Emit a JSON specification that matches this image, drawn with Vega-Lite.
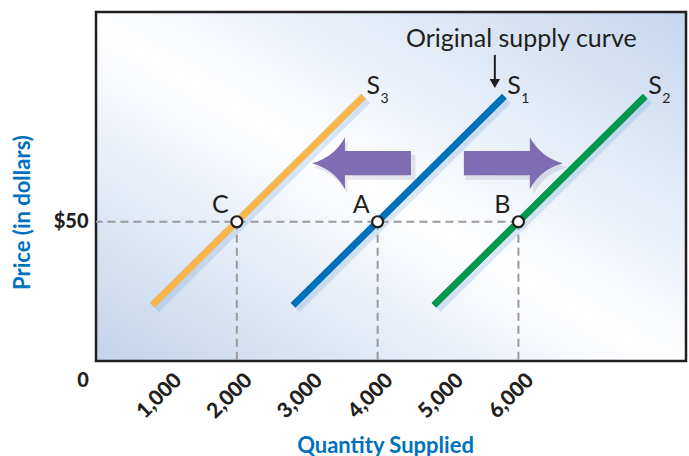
{
  "$schema": "https://vega.github.io/schema/vega-lite/v6.json",
  "autosize": {"type": "none"},
  "padding": {"left": 96, "top": 12, "right": 3, "bottom": 95},
  "width": 590,
  "height": 349,
  "background": "#ffffff",
  "config": {
    "font": "Lato",
    "view": {
      "stroke": "#231f20",
      "strokeWidth": 2.5,
      "fill": {
        "gradient": "linear",
        "x1": 0, "y1": 1, "x2": 1, "y2": 0,
        "stops": [
          {"offset": 0, "color": "#c2d3eb"},
          {"offset": 0.48, "color": "#ffffff"},
          {"offset": 0.6, "color": "#f1f5fb"},
          {"offset": 1, "color": "#c5d6ee"}
        ]
      }
    }
  },
  "datasets": {
    "lines": [
      {"curve": "S3", "qty": 800, "price": 20},
      {"curve": "S3", "qty": 3800, "price": 95},
      {"curve": "S1", "qty": 2800, "price": 20},
      {"curve": "S1", "qty": 5800, "price": 95},
      {"curve": "S2", "qty": 4800, "price": 20},
      {"curve": "S2", "qty": 7800, "price": 95}
    ],
    "labels": [
      {"name": "S", "sub": "3", "qty": 3800, "price": 95},
      {"name": "S", "sub": "1", "qty": 5800, "price": 95},
      {"name": "S", "sub": "2", "qty": 7800, "price": 95}
    ],
    "points": [
      {"label": "C", "qty": 2000, "price": 50},
      {"label": "A", "qty": 4000, "price": 50},
      {"label": "B", "qty": 6000, "price": 50}
    ],
    "shifts": [
      {"dir": "left", "qty": 3770, "price": 71},
      {"dir": "right", "qty": 5928, "price": 71}
    ],
    "note": [
      {"text": "Original supply curve", "qty": 6041, "price": 112.7, "arrowQty": 5665, "arrowTop": 109.9, "arrowBottom": 100.5, "headPrice": 99.6}
    ],
    "origin": [
      {"label": "0", "qty": 0, "price": 0}
    ]
  },
  "layer": [
    {
      "data": {"name": "lines"},
      "mark": {"type": "line", "strokeWidth": 6.5, "strokeCap": "butt"},
      "encoding": {
        "x": {
          "field": "qty", "type": "quantitative",
          "scale": {"domain": [0, 8380], "nice": false, "zero": false},
          "axis": {
            "values": [1000, 2000, 3000, 4000, 5000, 6000],
            "format": ",.0f",
            "labelAngle": -45,
            "labelAlign": "right",
            "labelBaseline": "top",
            "labelFontSize": 21,
            "labelFontWeight": 900,
            "labelColor": "#231f20",
            "labelPadding": 8,
            "labelOffset": 4,
            "labelFlush": false,
            "labelOverlap": false,
            "domain": false,
            "ticks": false,
            "grid": false,
            "title": "Quantity Supplied",
            "titleColor": "#0071bc",
            "titleFontSize": 22,
            "titleFontWeight": "bold",
            "titleX": 289,
            "titleY": 91,
            "titleAlign": "center",
            "titleBaseline": "alphabetic"
          }
        },
        "y": {
          "field": "price", "type": "quantitative",
          "scale": {"domain": [0, 125.3], "nice": false, "zero": false},
          "axis": {
            "values": [50],
            "format": "$.0f",
            "labelFontSize": 20,
            "labelFontWeight": 900,
            "labelColor": "#231f20",
            "labelPadding": 8,
            "domain": false,
            "ticks": false,
            "grid": false,
            "title": "Price (in dollars)",
            "titleColor": "#0071bc",
            "titleFontSize": 22,
            "titleFontWeight": "bold",
            "titleAngle": 270,
            "titleX": -74,
            "titleY": 200,
            "titleAlign": "center",
            "titleBaseline": "middle"
          }
        },
        "color": {
          "field": "curve", "type": "nominal",
          "scale": {"domain": ["S3", "S1", "S2"], "range": ["#fbb64b", "#0070bb", "#00984c"]},
          "legend": null
        }
      }
    },
    {
      "data": {"name": "points"},
      "transform": [{"aggregate": [{"op": "max", "field": "qty", "as": "qmax"}], "groupby": ["price"]}],
      "mark": {"type": "rule", "color": "#9b9b9b", "strokeWidth": 2, "strokeDash": [8, 5]},
      "encoding": {
        "x": {"field": "qmax", "type": "quantitative"},
        "x2": {"datum": 0},
        "y": {"field": "price", "type": "quantitative"}
      }
    },
    {
      "data": {"name": "points"},
      "mark": {"type": "rule", "color": "#9b9b9b", "strokeWidth": 2, "strokeDash": [8, 5]},
      "encoding": {
        "x": {"field": "qty", "type": "quantitative"},
        "y": {"field": "price", "type": "quantitative"},
        "y2": {"datum": 0}
      }
    },
    {
      "data": {"name": "lines"},
      "mark": {"type": "line", "color": "#5b95d6", "strokeWidth": 13, "opacity": 0.22, "strokeCap": "butt", "xOffset": 2, "yOffset": 2},
      "encoding": {
        "x": {"field": "qty", "type": "quantitative"},
        "y": {"field": "price", "type": "quantitative"},
        "detail": {"field": "curve"}
      }
    },
    {
      "data": {"name": "lines"},
      "mark": {"type": "line", "strokeWidth": 6.5, "strokeCap": "butt"},
      "encoding": {
        "x": {"field": "qty", "type": "quantitative"},
        "y": {"field": "price", "type": "quantitative"},
        "color": {"field": "curve", "type": "nominal", "legend": null}
      }
    },
    {
      "data": {"name": "shifts"},
      "mark": {"type": "point", "filled": true, "color": "#3a3a60", "opacity": 0.12, "size": 10400, "xOffset": 3, "yOffset": 4, "strokeWidth": 0},
      "encoding": {
        "x": {"field": "qty", "type": "quantitative"},
        "y": {"field": "price", "type": "quantitative"},
        "shape": {
          "field": "dir", "type": "nominal",
          "scale": {"domain": ["left", "right"], "range": [
            "M -1 0 Q -0.55 -0.12 -0.333 -0.525 L -0.333 -0.245 L 1 -0.245 L 1 0.245 L -0.333 0.245 L -0.333 0.525 Q -0.55 0.12 -1 0 Z",
            "M 1 0 Q 0.55 -0.12 0.333 -0.525 L 0.333 -0.245 L -1 -0.245 L -1 0.245 L 0.333 0.245 L 0.333 0.525 Q 0.55 0.12 1 0 Z"
          ]},
          "legend": null
        }
      }
    },
    {
      "data": {"name": "shifts"},
      "mark": {"type": "point", "filled": true, "color": "#7f6db3", "opacity": 1, "size": 9801, "strokeWidth": 0},
      "encoding": {
        "x": {"field": "qty", "type": "quantitative"},
        "y": {"field": "price", "type": "quantitative"},
        "shape": {"field": "dir", "type": "nominal", "legend": null}
      }
    },
    {
      "data": {"name": "points"},
      "mark": {"type": "point", "shape": "circle", "filled": false, "fill": "#ffffff", "fillOpacity": 1, "stroke": "#231f20", "strokeWidth": 2.2, "opacity": 1, "size": 120},
      "encoding": {
        "x": {"field": "qty", "type": "quantitative"},
        "y": {"field": "price", "type": "quantitative"}
      }
    },
    {
      "data": {"name": "points"},
      "mark": {"type": "text", "align": "right", "baseline": "alphabetic", "dx": -8, "dy": -9, "fontSize": 25, "color": "#231f20"},
      "encoding": {
        "x": {"field": "qty", "type": "quantitative"},
        "y": {"field": "price", "type": "quantitative"},
        "text": {"field": "label"}
      }
    },
    {
      "data": {"name": "labels"},
      "mark": {"type": "text", "align": "left", "baseline": "alphabetic", "dx": 3, "dy": -2, "fontSize": 25, "color": "#231f20"},
      "encoding": {
        "x": {"field": "qty", "type": "quantitative"},
        "y": {"field": "price", "type": "quantitative"},
        "text": {"field": "name"}
      }
    },
    {
      "data": {"name": "labels"},
      "mark": {"type": "text", "align": "left", "baseline": "alphabetic", "dx": 17, "dy": 7, "fontSize": 14, "color": "#231f20"},
      "encoding": {
        "x": {"field": "qty", "type": "quantitative"},
        "y": {"field": "price", "type": "quantitative"},
        "text": {"field": "sub"}
      }
    },
    {
      "data": {"name": "note"},
      "mark": {"type": "text", "align": "center", "baseline": "alphabetic", "fontSize": 25, "color": "#231f20"},
      "encoding": {
        "x": {"field": "qty", "type": "quantitative"},
        "y": {"field": "price", "type": "quantitative"},
        "text": {"field": "text"}
      }
    },
    {
      "data": {"name": "note"},
      "mark": {"type": "rule", "color": "#231f20", "strokeWidth": 2},
      "encoding": {
        "x": {"field": "arrowQty", "type": "quantitative"},
        "y": {"field": "arrowTop", "type": "quantitative"},
        "y2": {"field": "arrowBottom"}
      }
    },
    {
      "data": {"name": "note"},
      "mark": {"type": "point", "shape": "triangle-down", "filled": true, "color": "#231f20", "opacity": 1, "size": 110},
      "encoding": {
        "x": {"field": "arrowQty", "type": "quantitative"},
        "y": {"field": "headPrice", "type": "quantitative"}
      }
    },
    {
      "data": {"name": "origin"},
      "mark": {"type": "text", "align": "center", "baseline": "middle", "dx": -13, "dy": 20, "fontSize": 20, "fontWeight": 900, "color": "#231f20"},
      "encoding": {
        "x": {"field": "qty", "type": "quantitative"},
        "y": {"field": "price", "type": "quantitative"},
        "text": {"field": "label"}
      }
    }
  ]
}
